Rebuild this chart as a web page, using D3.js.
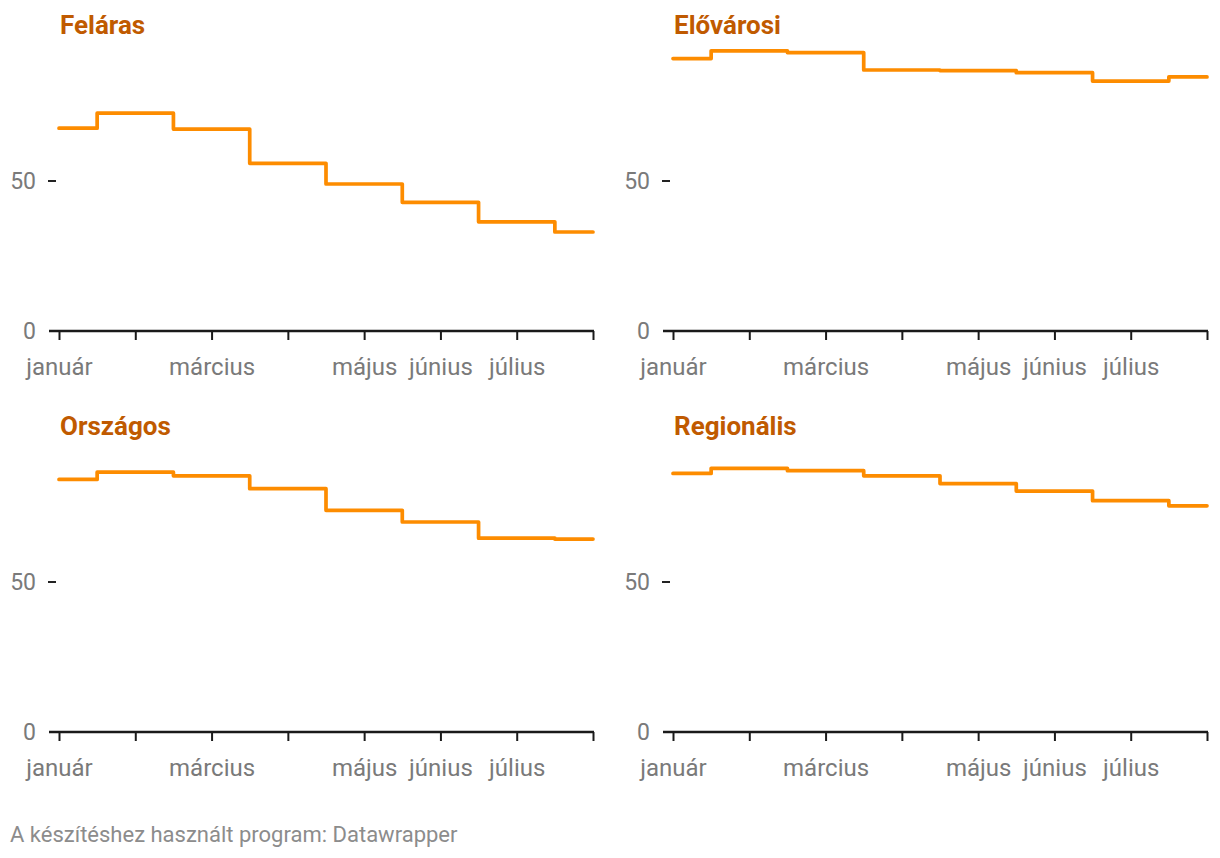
<!DOCTYPE html>
<html>
<head>
<meta charset="utf-8">
<script src="https://cdn.jsdelivr.net/npm/d3@7"></script>
<style>
  html, body { margin: 0; padding: 0; background: #fff; }
  svg { display: block; font-family: Roboto, "Noto Sans", sans-serif; }
</style>
</head>
<body>
<svg id="chart" width="1220" height="858"></svg>
<script>
const months = ["január", "február", "március", "április", "május", "június", "július", "augusztus"];
const tickLabels = ["január", "", "március", "", "május", "június", "július", ""];
const yTicks = [0, 50];
const titles = ["Feláras", "Elővárosi", "Országos", "Regionális"];
const felaras   = [67.6, 72.6, 67.3, 55.9, 49.0, 42.9, 36.4, 33.0];
const elovarosi = [90.8, 93.4, 92.8, 87.0, 86.8, 86.1, 83.3, 84.7];
const orszagos  = [84.2, 86.6, 85.4, 81.1, 73.9, 70.0, 64.6, 64.3];
const regionalis= [86.2, 87.9, 87.1, 85.4, 82.8, 80.3, 77.1, 75.4];
const seriesValues = [felaras, elovarosi, orszagos, regionalis];
const footer = "A készítéshez használt program: Datawrapper";

const svg = d3.select("#chart");
const W = 534, H = 300;
const origins = [[59, 31], [673, 31], [59, 432], [673, 432]];

const x = d3.scalePoint().domain(months).range([0, W]);
const y = d3.scaleLinear().domain([0, 100]).range([H, 0]);

const line = d3.line()
  .x((d, i) => x(months[i]))
  .y(d => y(d))
  .curve(d3.curveStep);

seriesValues.forEach((vals, k) => {
  const g = svg.append("g").attr("transform", `translate(${origins[k][0]},${origins[k][1]})`);

  // title
  g.append("text")
    .attr("x", 1).attr("y", 3)
    .attr("fill", "#c05a00")
    .attr("font-size", 26)
    .attr("font-weight", 700)
    .text(titles[k]);

  // y ticks
  const yt = g.append("g");
  yTicks.forEach(t => {
    yt.append("text")
      .attr("x", -23).attr("y", y(t))
      .attr("dy", "0.35em")
      .attr("text-anchor", "end")
      .attr("fill", "#7a7a7a")
      .attr("font-size", 23)
      .text(t);
    if (t !== 0) {
      yt.append("line")
        .attr("x1", -11).attr("x2", -3)
        .attr("y1", y(t)).attr("y2", y(t))
        .attr("stroke", "#222").attr("stroke-width", 2);
    }
  });

  // x axis baseline
  g.append("line")
    .attr("x1", -10).attr("x2", W + 1)
    .attr("y1", y(0)).attr("y2", y(0))
    .attr("stroke", "#1a1a1a").attr("stroke-width", 2.5);

  const xa = d3.axisBottom(x).tickSize(9).tickFormat((d, i) => tickLabels[i]);
  const ax = g.append("g").attr("transform", `translate(0,${y(0)})`).call(xa);
  ax.select(".domain").remove();
  ax.selectAll(".tick line").attr("stroke", "#1a1a1a").attr("stroke-width", 2);
  ax.selectAll(".tick text")
    .attr("fill", "#7a7a7a")
    .attr("font-size", 24)
    .attr("font-family", "Roboto, sans-serif")
    .attr("y", 27);

  g.append("path")
    .datum(vals)
    .attr("d", line)
    .attr("fill", "none")
    .attr("stroke", "#fd8c00")
    .attr("stroke-width", 3.7)
    .attr("stroke-linejoin", "round")
    .attr("stroke-linecap", "round");
});

svg.append("text")
  .attr("x", 10).attr("y", 842)
  .attr("fill", "#8c8c8c")
  .attr("font-size", 22)
  .text(footer);
</script>
</body>
</html>
